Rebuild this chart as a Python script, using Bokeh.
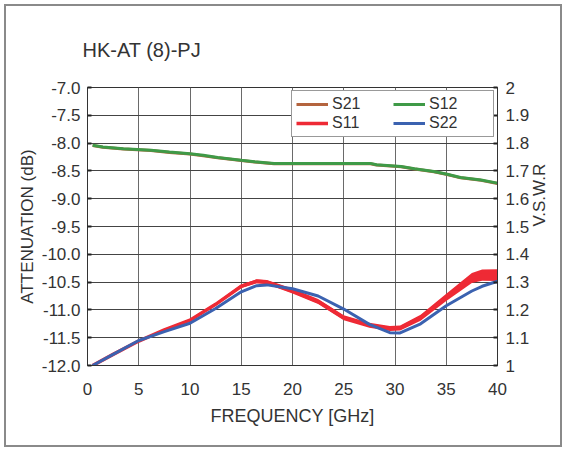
import math
from bokeh.plotting import figure
from bokeh.models import (Range1d, LinearAxis, FixedTicker, NumeralTickFormatter,
                          Legend, LegendItem)
from bokeh.embed import file_html
from bokeh.resources import INLINE

# ---------------- data ----------------
freq_att = [0.5, 1.5, 3.5, 6.2, 8.0, 10.0, 11.3, 12.7, 15.0, 16.3, 18.2, 20.0,
            27.6, 28.2, 30.6, 31.9, 33.8, 35.1, 36.4, 38.4, 40.0]
s21 = [-8.045, -8.075, -8.105, -8.135, -8.17, -8.195, -8.23, -8.265, -8.315, -8.34, -8.37, -8.37,
       -8.37, -8.395, -8.425, -8.465, -8.515, -8.565, -8.625, -8.67, -8.725]
s12 = [-8.04, -8.07, -8.10, -8.13, -8.16, -8.19, -8.22, -8.26, -8.31, -8.335, -8.365, -8.365,
       -8.365, -8.39, -8.42, -8.46, -8.51, -8.56, -8.62, -8.665, -8.72]

freq_vswr = [0.5, 2.5, 5, 7.5, 10, 12.5, 15, 16.5, 17.5, 20, 22.5, 25, 27.5, 29.5,
             30.5, 32.5, 35, 37.5, 38.5, 40]
s11 = [1.000, 1.040, 1.088, 1.128, 1.163, 1.220, 1.285, 1.303, 1.300, 1.268, 1.230, 1.172,
       1.145, 1.133, 1.135, 1.172, 1.245, 1.315, 1.325, 1.325]
s11_spread = [0.003, 0.003, 0.004, 0.004, 0.004, 0.005, 0.006, 0.007, 0.008, 0.009, 0.009, 0.009,
              0.009, 0.009, 0.009, 0.011, 0.013, 0.018, 0.020, 0.021]
s22 = [1.000, 1.040, 1.090, 1.122, 1.152, 1.205, 1.265, 1.287, 1.290, 1.276, 1.250, 1.203,
       1.148, 1.118, 1.117, 1.150, 1.215, 1.268, 1.285, 1.303]

att_ticks = [-12.0, -11.5, -11.0, -10.5, -10.0, -9.5, -9.0, -8.5, -8.0, -7.5, -7.0]
vswr_ticks = [1.0, 1.1, 1.2, 1.3, 1.4, 1.5, 1.6, 1.7, 1.8, 1.9, 2.0]
freq_ticks = [0, 5, 10, 15, 20, 25, 30, 35, 40]

title_text = "HK-AT (8)-PJ"
xlabel = "FREQUENCY [GHz]"
ylabel_left = "ATTENUATION (dB)"
ylabel_right = "V.S.W.R"

FONT = "Liberation Sans"
TXT = "#333333"
C21, C12, C11, C22 = "#b4643e", "#3f9a47", "#ee2a35", "#3b62b0"

# ---------------- figure ----------------
FL, FT, FW, FH = 87, 87, 410, 278          # frame left/top/width/height (canvas px)
p = figure(width=566, height=451, x_range=Range1d(0, 40), y_range=Range1d(-12, -7),
           output_backend="svg", toolbar_location=None, title=title_text,
           min_border_left=FL, min_border_right=566 - FL - FW,
           min_border_top=FT, min_border_bottom=451 - FT - FH)
p.styles = {"outline": "2px solid #8a8a8a", "outline-offset": "-6px"}
p.extra_y_ranges = {"vswr": Range1d(1, 2)}
p.outline_line_color = "#333333"
p.outline_line_width = 1
p.background_fill_color = "white"
p.border_fill_alpha = 0

p.title.text_font = FONT
p.title.text_font_size = "20px"
p.title.text_font_style = "normal"
p.title.text_color = TXT
p.title.align = "left"
p.title.offset = -5
p.title.standoff = 54

p.xaxis.ticker = FixedTicker(ticks=freq_ticks)
p.yaxis.ticker = FixedTicker(ticks=att_ticks)
p.yaxis.formatter = NumeralTickFormatter(format="0.0")

ax_r = LinearAxis(y_range_name="vswr", ticker=FixedTicker(ticks=vswr_ticks),
                  formatter=NumeralTickFormatter(format="0.[0]"))
p.add_layout(ax_r, "right")

p.xaxis.axis_label = xlabel
p.yaxis.axis_label = ylabel_left
ax_r.axis_label = ylabel_right
try:
    ax_r.axis_label_orientation = math.pi / 2
except Exception:
    pass

for ax in [p.xaxis[0], p.yaxis[0], ax_r]:
    ax.major_label_text_font = FONT
    ax.major_label_text_font_size = "17px"
    ax.major_label_text_color = TXT
    ax.axis_label_text_font = FONT
    ax.axis_label_text_font_size = "17px"
    ax.axis_label_text_font_style = "normal"
    ax.axis_label_text_color = TXT
    ax.axis_line_color = "#333333"
    ax.minor_tick_line_color = None
    ax.major_tick_line_color = "#222222"
    ax.major_tick_line_width = 2
    ax.major_tick_in = 4
    ax.major_tick_out = 0
p.xaxis.major_tick_line_color = None
p.xaxis.major_label_standoff = 17
p.xaxis.axis_label_standoff = 8
p.xaxis.axis_label_text_font_size = "18px"
p.yaxis.major_label_standoff = 7
p.yaxis.axis_label_standoff = 2
ax_r.major_label_standoff = 8
ax_r.axis_label_standoff = 7

p.xgrid.grid_line_color = "#6a6a6a"
p.xgrid.grid_line_width = 1
p.ygrid.grid_line_color = "#444444"
p.ygrid.grid_line_width = 1

# ---------------- series ----------------
r21 = p.line(freq_att, s21, line_color=C21, line_width=3)
r12 = p.line(freq_att, s12, line_color=C12, line_width=3)

s11_lo = [v - d for v, d in zip(s11, s11_spread)]
s11_hi = [v + d for v, d in zip(s11, s11_spread)]
p.varea(x=freq_vswr, y1=s11_lo, y2=s11_hi, fill_color=C11, y_range_name="vswr")
r11 = p.line(freq_vswr, s11, line_color=C11, line_width=3.5, y_range_name="vswr")
r22 = p.line(freq_vswr, s22, line_color=C22, line_width=3, y_range_name="vswr")

# ---------------- legend (top right, inside the frame) ----------------
leg = Legend(items=[LegendItem(label="S21", renderers=[r21]),
                    LegendItem(label="S11", renderers=[r11]),
                    LegendItem(label="S12", renderers=[r12]),
                    LegendItem(label="S22", renderers=[r22])],
             ncols=2, location="top_right", padding=4, margin=3, spacing=1,
             glyph_width=32, glyph_height=16, label_height=16, label_width=60,
             label_standoff=4, label_text_font=FONT, label_text_font_size="16px",
             label_text_color=TXT, background_fill_color="white", background_fill_alpha=1,
             border_line_color="#333333", border_line_width=1.5)
p.add_layout(leg, "center")

open("out.html", "w").write(file_html(p, INLINE))
